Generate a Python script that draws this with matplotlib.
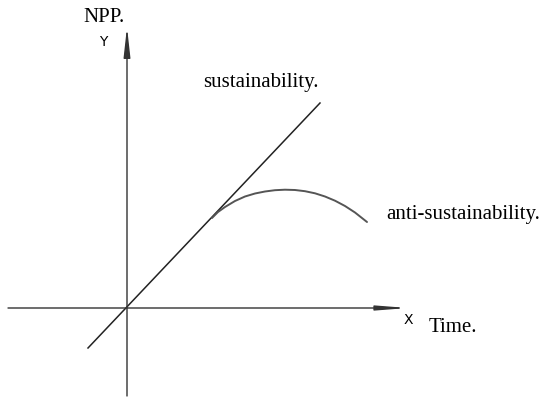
import matplotlib
matplotlib.use('Agg')
import matplotlib.pyplot as plt

# straight "sustainability" line (end points, origin at the axes crossing)
sus_x = [-39, 193]
sus_y = [-40, 205]

# "anti-sustainability" curve, points
anti_x = [85, 91, 98, 108, 118, 128, 138, 148, 158, 168, 178, 188, 198, 208, 218, 228, 240]
anti_y = [90, 96, 101, 107, 111.5, 114.5, 116.5, 117.8, 118.3, 118, 116.8, 114.7,
          111.5, 107.3, 102, 95.5, 86]

fig = plt.figure(figsize=(5.5, 4.05), dpi=100)
ax = fig.add_axes([0, 0, 1, 1])
ax.set_xlim(-127, 423)
ax.set_ylim(-97, 308)
ax.axis('off')
fig.patch.set_facecolor('white')

axis_col = '#333333'
# axes with arrow heads
ax.annotate('', xy=(281, 0), xytext=(-119, 0),
            arrowprops=dict(arrowstyle='-|>,head_length=1.8,head_width=0.14',
                            color=axis_col, lw=1.0, shrinkA=0, shrinkB=0))
ax.annotate('', xy=(0, 281), xytext=(0, -88),
            arrowprops=dict(arrowstyle='-|>,head_length=1.8,head_width=0.2',
                            color=axis_col, lw=1.0, shrinkA=0, shrinkB=0))

ax.plot(sus_x, sus_y, color='#222222', lw=1.1)
ax.plot(anti_x, anti_y, color='#555555', lw=1.4, solid_capstyle='round',
        solid_joinstyle='round')

serif = 'Liberation Serif'
ax.text(-23, 291, 'NPP.', family=serif, fontsize=15, ha='center', va='center')
ax.text(-24, 266, 'Y', family='DejaVu Sans', fontsize=10, ha='center', va='center')
ax.text(134, 225, 'sustainability.', family=serif, fontsize=15, ha='center', va='center')
ax.text(336, 93, 'anti-sustainability.', family=serif, fontsize=15, ha='center', va='center')
ax.text(281, -12, 'X', family='DejaVu Sans', fontsize=10, ha='center', va='center')
ax.text(326, -19, 'Time.', family=serif, fontsize=15, ha='center', va='center')

fig.savefig('out.png', dpi=100, facecolor='white')
